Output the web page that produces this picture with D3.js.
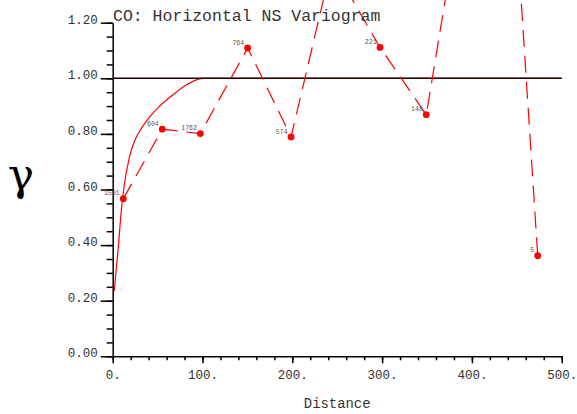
<!DOCTYPE html>
<html>
<head>
<meta charset="utf-8">
<script src="https://cdn.jsdelivr.net/npm/d3@7"></script>
<style>
  body { margin: 0; background: #fff; }
  svg { display: block; }
</style>
</head>
<body>
<div id="chart"></div>
<script>
// experimental variogram points (lag distance, gamma, number of pairs)
var lagDist = [11.8, 55.2, 97.6, 150.3, 198.6, 244, 297.7, 349.2, 431, 473.3];
var gammaVals = [0.567, 0.817, 0.801, 1.109, 0.789, 1.41, 1.111, 0.869, 2.47, 0.362];
var pairCounts = [1591, 604, 1762, 764, 574, 412, 221, 148, 63, 5];

// fitted model curve
var modelDist = [1.8, 4, 6.2, 8.9, 12.6, 18.5, 25, 32, 41, 50, 60, 70, 80, 90, 100, 500];
var modelGamma = [0.235, 0.315, 0.39, 0.5, 0.61, 0.715, 0.78, 0.82, 0.86, 0.893, 0.922, 0.948, 0.972, 0.99, 1.0, 1.0];

var xMajor = [0, 100, 200, 300, 400, 500];
var yMajor = [0, 0.2, 0.4, 0.6, 0.8, 1.0, 1.2];

var W = 577, H = 414;
var mono = "'Liberation Mono', 'DejaVu Sans Mono', monospace";

var svg = d3.select("#chart").append("svg")
    .attr("width", W)
    .attr("height", H);

var x = d3.scaleLinear().domain([0, 500]).range([112.7, 561.7]);
var y = d3.scaleLinear().domain([0, 1.2]).range([356.3, 22.7]);

// minor ticks
svg.append("g")
    .attr("transform", "translate(" + x(0) + ",0)")
    .call(d3.axisLeft(y).tickValues(d3.range(0, 1.2001, 0.05)).tickSize(6).tickFormat(""))
    .call(function(g) { g.select(".domain").remove(); });
svg.append("g")
    .attr("transform", "translate(0," + y(0) + ")")
    .call(d3.axisBottom(x).tickValues(d3.range(0, 500.1, 20)).tickSize(4).tickFormat(""))
    .call(function(g) { g.select(".domain").remove(); });

// major y axis
var yAxis = svg.append("g")
    .attr("transform", "translate(" + x(0) + ",0)")
    .call(d3.axisLeft(y).tickValues(yMajor).tickSize(12).tickPadding(3).tickSizeOuter(0)
        .tickFormat(d3.format(".2f")));
yAxis.selectAll("text")
    .attr("dy", "0.05em")
    .style("font-family", mono)
    .style("font-size", "12.5px")
    .attr("fill", "#333");

// major x axis
var xAxis = svg.append("g")
    .attr("transform", "translate(0," + y(0) + ")")
    .call(d3.axisBottom(x).tickValues(xMajor).tickSize(7).tickSizeOuter(0)
        .tickFormat(function(d) { return d + "."; }));
xAxis.selectAll("text")
    .attr("y", 22.7)
    .attr("dy", "0")
    .style("font-family", mono)
    .style("font-size", "12.5px")
    .attr("fill", "#333");

svg.selectAll(".domain, .tick line")
    .attr("stroke", "#000")
    .attr("stroke-width", 1.5);

// model curve
var modelData = modelDist.map(function(d, i) { return [d, modelGamma[i]]; });
svg.append("path")
    .datum(modelData)
    .attr("fill", "none")
    .attr("stroke", "#ff0000")
    .attr("stroke-width", 1.2)
    .attr("d", d3.line()
        .curve(d3.curveMonotoneX)
        .x(function(d) { return x(d[0]); })
        .y(function(d) { return y(d[1]); }));

// sill line, drawn over the flat part of the model
svg.append("line")
    .attr("x1", x(0)).attr("x2", x(500))
    .attr("y1", y(1)).attr("y2", y(1))
    .attr("stroke", "#1a0000")
    .attr("stroke-width", 1.5);

// experimental points joined by dashes
var points = lagDist.map(function(d, i) {
    return {h: d, g: gammaVals[i], n: pairCounts[i]};
});
svg.append("path")
    .datum(points)
    .attr("fill", "none")
    .attr("stroke", "#ff0000")
    .attr("stroke-width", 1.2)
    .attr("stroke-dasharray", "17 9")
    .attr("d", d3.line()
        .x(function(d) { return x(d.h); })
        .y(function(d) { return y(d.g); }));

svg.selectAll("circle.pt")
    .data(points)
    .enter().append("circle")
    .attr("class", "pt")
    .attr("cx", function(d) { return x(d.h); })
    .attr("cy", function(d) { return y(d.g); })
    .attr("r", 3.4)
    .attr("fill", "#ff0000");

// pair counts, only for points that land inside the frame
svg.selectAll("text.cnt")
    .data(points.filter(function(d) { return y(d.g) > 10; }))
    .enter().append("text")
    .attr("class", "cnt")
    .attr("x", function(d) { return x(d.h) - 3.5; })
    .attr("y", function(d) { return y(d.g) - 3.3; })
    .attr("text-anchor", "end")
    .style("font-family", mono)
    .style("font-size", "6.5px")
    .attr("fill", "#555")
    .text(function(d) { return d.n; });

// title and axis labels
svg.append("text")
    .attr("x", 113)
    .attr("y", 21)
    .style("font-family", mono)
    .style("font-size", "16.5px")
    .attr("fill", "#333")
    .text("CO: Horizontal NS Variogram");

svg.append("text")
    .attr("x", 20.5)
    .attr("y", 408)
    .attr("x", (x(0) + x(500)) / 2)
    .attr("text-anchor", "middle")
    .style("font-family", mono)
    .style("font-size", "13.9px")
    .attr("fill", "#333")
    .text("Distance");

svg.append("text")
    .attr("x", 21)
    .attr("y", 190)
    .attr("text-anchor", "middle")
    .style("font-family", "'DejaVu Serif', serif")
    .style("font-size", "44px")
    .attr("fill", "#000")
    .text("γ");
</script>
</body>
</html>
